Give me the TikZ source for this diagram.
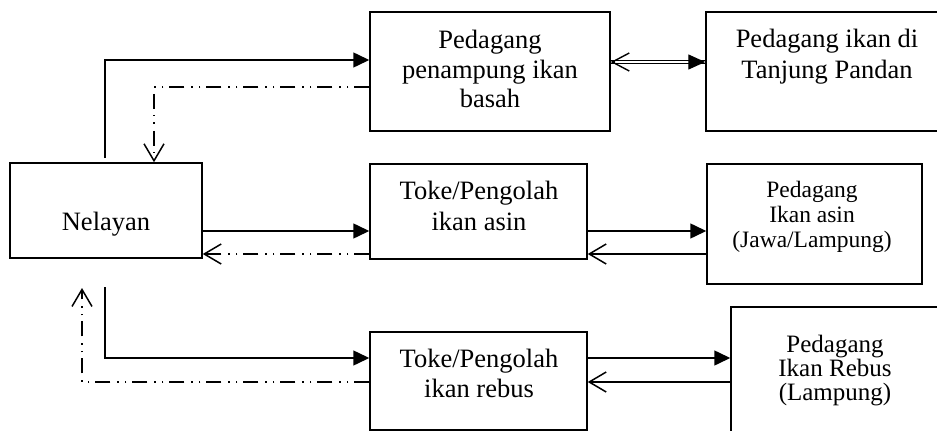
\documentclass[tikz,border=0pt]{standalone}
\usepackage{fontspec}
\setmainfont{Liberation Serif}
\usetikzlibrary{arrows.meta}
\begin{document}
\begin{tikzpicture}[x=1pt,y=-1pt,
  box/.style={draw,line width=1.5pt,rectangle,inner sep=0pt},
  lbl/.style={anchor=base,inner sep=0pt,font=\fontsize{26.5}{30}\selectfont},
  lbls/.style={anchor=base,inner sep=0pt,font=\fontsize{23.5}{25}\selectfont},
  lblm/.style={anchor=base,inner sep=0pt,font=\fontsize{25}{25}\selectfont},
  conn/.style={line width=1.5pt},
  ddot/.style={line width=1.5pt,dash pattern=on 15pt off 6pt on 1.5pt off 6pt on 1.5pt off 7pt},
  filltip/.style={-{Triangle[length=16pt,width=15pt]}},
  opentip/.style={-{Straight Barb[length=17pt,width=20pt]}}
]
\useasboundingbox (0,0) rectangle (937,431);
\clip (0,0) rectangle (937,431);

% boxes
\node[box,minimum width=192pt,minimum height=95pt] (nel) at (106,210.5) {};
\node[box,minimum width=240pt,minimum height=119pt] (pp) at (490,71.5) {};
\node[box,minimum width=244pt,minimum height=119pt] (tp) at (828,71.5) {};
\node[box,minimum width=217pt,minimum height=95pt] (ta) at (478.5,211.5) {};
\node[box,minimum width=215pt,minimum height=120pt] (jw) at (814.5,224) {};
\node[box,minimum width=217pt,minimum height=98pt] (tr) at (478.5,381) {};
\node[box,minimum width=219pt,minimum height=153pt] (lr) at (840.5,383.5) {};

% texts
\node[lbl] (nelT) at (106,230) {Nelayan};
\node[lbl] (ppT1) at (490,48) {Pedagang};
\node[lbl] (ppT2) at (490,78) {penampung ikan};
\node[lbl] (ppT3) at (490,107) {basah};
\node[lbl] (tpT1) at (827,47) {Pedagang ikan di};
\node[lbl] (tpT2) at (827,78) {Tanjung Pandan};
\node[lbl] (taT1) at (479,199) {Toke/Pengolah};
\node[lbl] (taT2) at (479,230) {ikan asin};
\node[lbls] (jwT1) at (812,197) {Pedagang};
\node[lbls] (jwT2) at (812,222) {Ikan asin};
\node[lbls] (jwT3) at (812,247) {(Jawa/Lampung)};
\node[lbl] (trT1) at (479,367) {Toke/Pengolah};
\node[lbl] (trT2) at (479,397) {ikan rebus};
\node[lblm] (lrT1) at (835,352) {Pedagang};
\node[lblm] (lrT2) at (835,376) {Ikan Rebus};
\node[lblm] (lrT3) at (835,400) {(Lampung)};

% connectors
\coordinate (nTop) at (105,158);
\draw[conn,filltip] (nTop) |- (pp.west |- 0,60);
\draw[ddot,opentip] (pp.west |- 0,87) -| (nel.north -| 154,0);

% double connector between pp and tp
\coordinate (dL) at (pp.east |- 0,62);
\coordinate (dR) at (tp.west |- 0,62);
\draw[line width=1pt] ([yshift=-1.2pt]dL) -- ([yshift=-1.2pt]dR);
\draw[line width=1pt] ([yshift=1.2pt]dL) -- ([yshift=1.2pt]dR);
\draw[line width=1.4pt,-{Triangle[length=17pt,width=15pt]}] ([xshift=-4pt]dR) -- (dR);
\draw[line width=1.4pt,-{Straight Barb[length=17pt,width=18pt]}] ([xshift=4pt]dL) -- (dL);

\draw[conn,filltip] (nel.east |- 0,231) -- (ta.west |- 0,231);
\draw[ddot,opentip] (ta.west |- 0,254) -- (nel.east |- 0,254);
\draw[conn,filltip] (ta.east |- 0,231) -- (jw.west |- 0,231);
\draw[conn,opentip] (jw.west |- 0,254) -- (ta.east |- 0,254);

\coordinate (nBot) at (105,287);
\coordinate (nBotD) at (82,288);
\draw[conn,filltip] (nBot) |- (tr.west |- 0,358);
\draw[ddot,opentip] (tr.west |- 0,382) -| (nBotD);
\draw[conn,filltip] (tr.east |- 0,358) -- (lr.west |- 0,358);
\draw[conn,opentip] (lr.west |- 0,382) -- (tr.east |- 0,382);
\end{tikzpicture}
\end{document}
